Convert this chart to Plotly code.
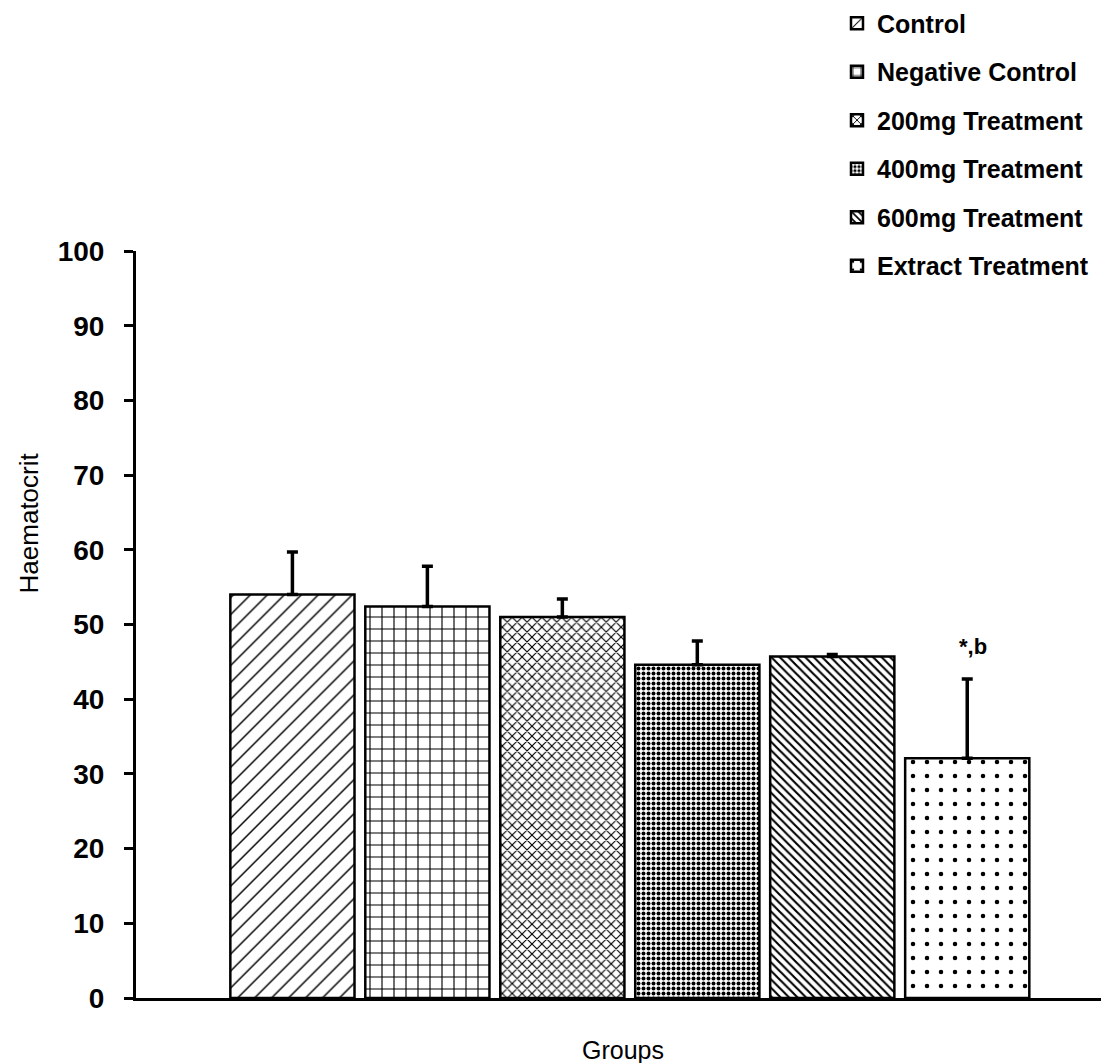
import plotly.graph_objects as go

groups = ["Control", "Negative Control", "200mg Treatment", "400mg Treatment",
          "600mg Treatment", "Extract Treatment"]
values = [54.0, 52.4, 51.0, 44.6, 45.7, 32.1]
errors = [5.7, 5.4, 2.4, 3.2, 0.3, 10.6]
patterns = ["/", "+", "x", ".", "\\", "."]
pattern_sizes = [12, 12, 7, 5, 6, 14]
pattern_solidity = [0.12, 0.18, 0.3, 0.5, 0.35, 0.08]
y_ticks = [0, 10, 20, 30, 40, 50, 60, 70, 80, 90, 100]
sig_label = "*,b"

FONT = "Liberation Sans, Arial, sans-serif"

fig = go.Figure()
for i, g in enumerate(groups):
    fig.add_trace(go.Bar(
        x=[i], y=[values[i]], name=g, width=0.92,
        legendgroup=g,
        marker=dict(color="white",
                    line=dict(color="black", width=2.5),
                    pattern=dict(shape=patterns[i], size=pattern_sizes[i],
                                 solidity=pattern_solidity[i],
                                 fgcolor="black", bgcolor="white",
                                 fillmode="replace")),
        error_y=dict(type="data", array=[errors[i]], arrayminus=[0],
                     symmetric=False, color="black", thickness=3.5, width=5.5),
    ))

fig.add_annotation(x=5.04, y=47.1, text=sig_label, showarrow=False,
                   font=dict(family=FONT, size=22, color="black", weight="bold"))

fig.add_annotation(xref="paper", yref="paper", x=0.4985, y=-0.0696,
                   text="Groups", showarrow=False, yanchor="middle",
                   font=dict(family=FONT, size=25, color="black"))
fig.add_annotation(xref="paper", yref="paper", x=-0.110, y=0.636,
                   text="Haematocrit", textangle=-90, showarrow=False,
                   xanchor="center", yanchor="middle",
                   font=dict(family=FONT, size=26, color="black"))

fig.update_layout(
    width=1109, height=1063,
    margin=dict(l=128, r=4, t=243, b=73, autoexpand=False),
    paper_bgcolor="white", plot_bgcolor="white",
    barmode="overlay",
    showlegend=True,
    legend=dict(x=0.7175, y=1.3355, xanchor="left", yanchor="top",
                font=dict(family=FONT, size=25, color="black", weight="bold"),
                tracegroupgap=13, bgcolor="rgba(0,0,0,0)"),
    xaxis=dict(range=[-1.159, 6.08], showticklabels=False, ticks="",
               showgrid=False, zeroline=False, showline=True,
               linecolor="black", linewidth=3),
    yaxis=dict(range=[0, 100], tickvals=y_ticks, ticks="outside", ticklen=9,
               tickwidth=3, tickcolor="black", showgrid=False, zeroline=False,
               showline=True, linecolor="black", linewidth=3,
               ticklabelstandoff=14,
               tickfont=dict(family=FONT, size=28, color="black", weight="bold")),
)

fig.write_html("out.html")
